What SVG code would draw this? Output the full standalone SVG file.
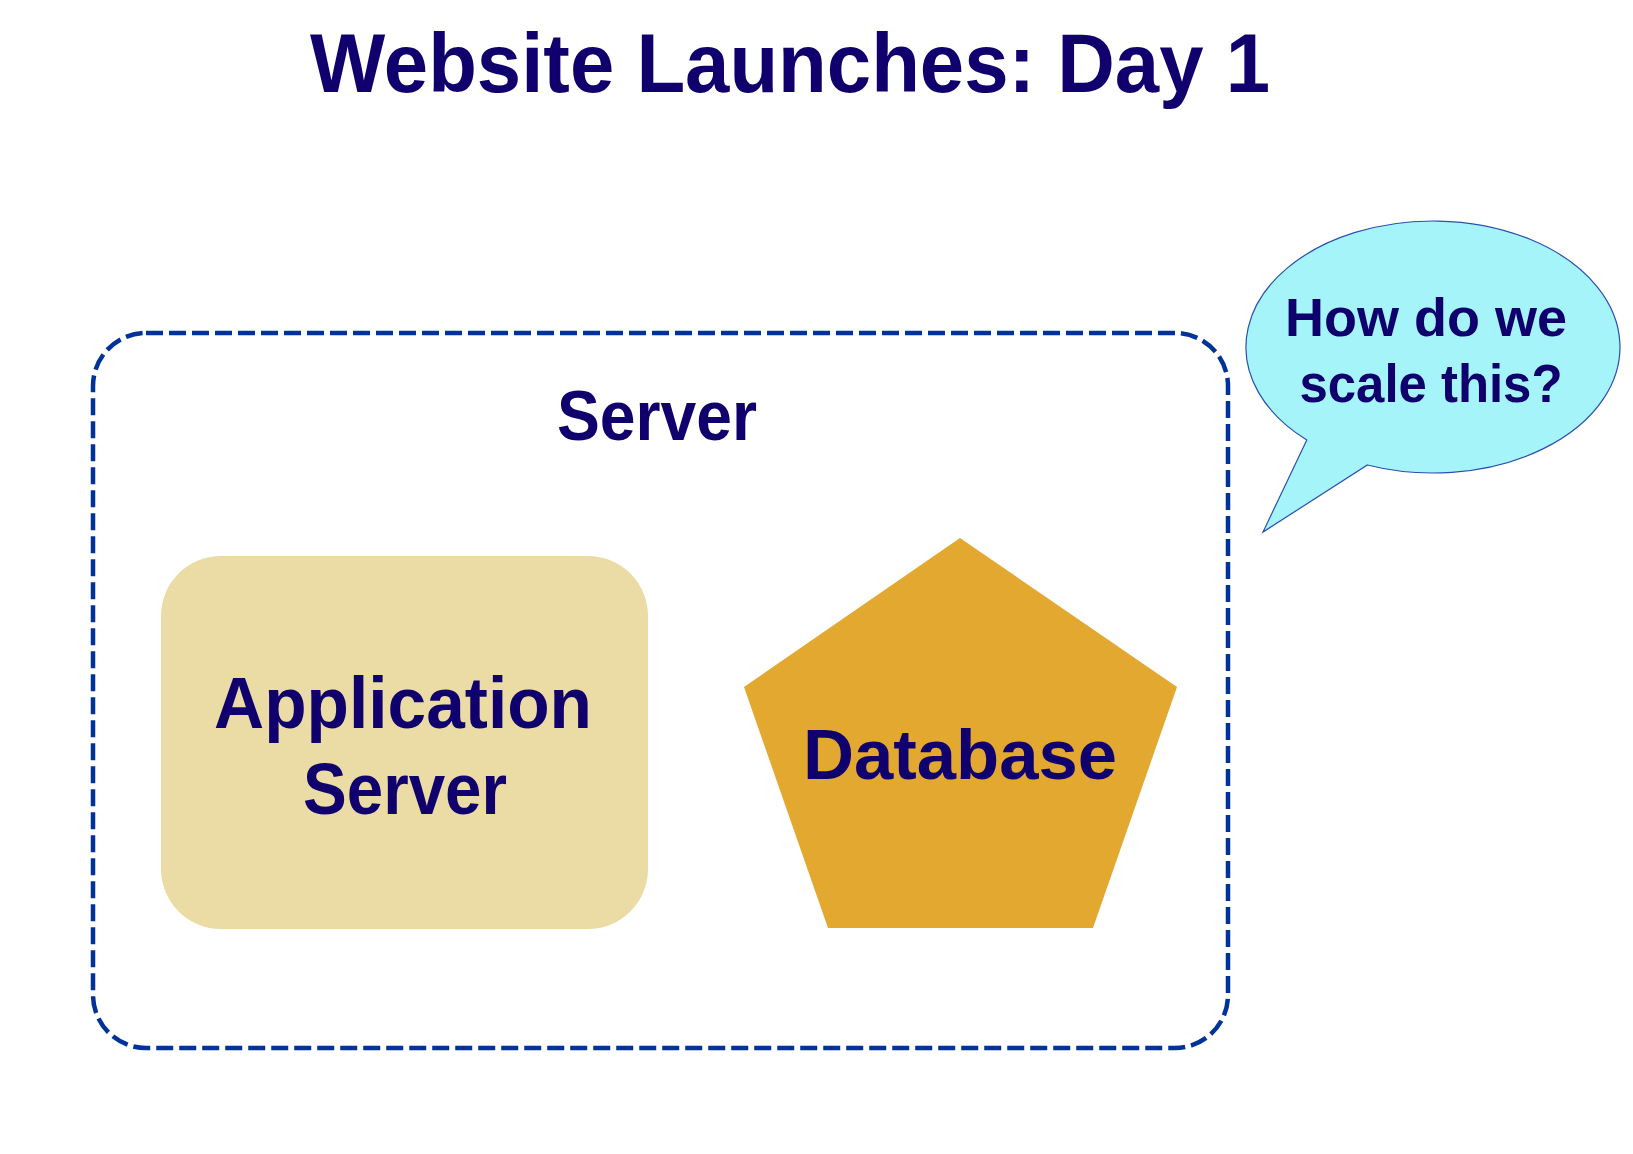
<svg xmlns="http://www.w3.org/2000/svg" width="1633" height="1154" viewBox="0 0 1633 1154">
<style>
.t{font-family:"Liberation Sans",Arial,sans-serif;font-weight:bold;fill:#10006e;text-anchor:middle}
</style>
<rect width="1633" height="1154" fill="#ffffff"/>
<text class="t" x="790" y="92" font-size="84" textLength="960" lengthAdjust="spacingAndGlyphs">Website Launches: Day 1</text>
<g id="server">
<rect x="93" y="333" width="1135" height="715" rx="53" ry="53" fill="none" stroke="#003399" stroke-width="4.5" stroke-dasharray="17 6"/>
<text class="t" x="657" y="440" font-size="70" textLength="200" lengthAdjust="spacingAndGlyphs">Server</text>
</g>
<g id="app-server">
<rect x="161" y="556" width="487" height="373" rx="60" ry="60" fill="#ebdca5"/>
<text class="t" x="403" y="728" font-size="72" textLength="378" lengthAdjust="spacingAndGlyphs">Application</text>
<text class="t" x="405" y="814" font-size="72" textLength="204" lengthAdjust="spacingAndGlyphs">Server</text>
</g>
<g id="database">
<polygon points="960,538 1177,687 1093,928 828,928 744,687" fill="#e3a82f"/>
<text class="t" x="960" y="779" font-size="70" textLength="314" lengthAdjust="spacingAndGlyphs">Database</text>
</g>
<g id="callout">
<path d="M1306.8,440 A187,126 0 1 1 1367.4,465 L1263,532 Z" fill="#a4f4fa" stroke="#2a4fb0" stroke-width="1.2"/>
<text class="t" x="1426" y="336" font-size="54" textLength="282" lengthAdjust="spacingAndGlyphs">How do we</text>
<text class="t" x="1431" y="402" font-size="54" textLength="263" lengthAdjust="spacingAndGlyphs">scale this?</text>
</g>
<g id="connectors"></g>
</svg>
